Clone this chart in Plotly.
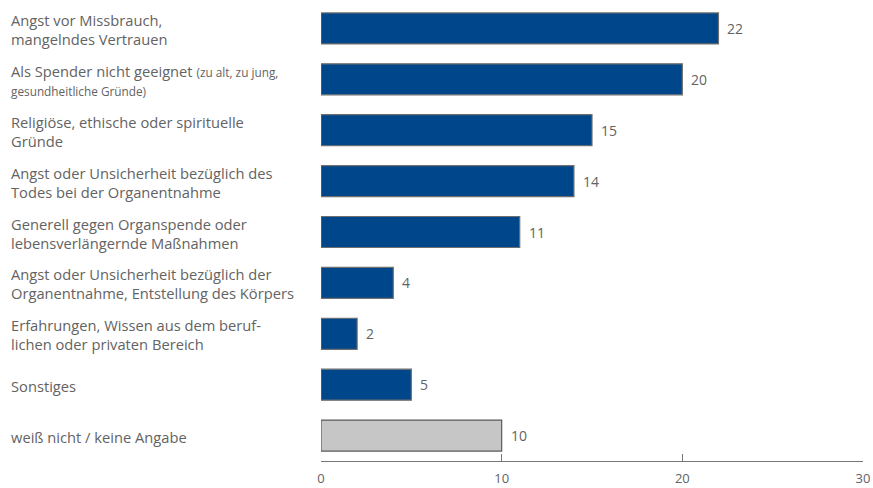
import plotly.graph_objects as go

# Reasons against organ donation, share in percent
categories = [
    "Angst vor Missbrauch,<br>mangelndes Vertrauen",
    "Als Spender nicht geeignet <span style='font-size:11.8px'>(zu alt, zu jung,</span><br><span style='font-size:11.8px'>gesundheitliche Gründe)</span>",
    "Religiöse, ethische oder spirituelle<br>Gründe",
    "Angst oder Unsicherheit bezüglich des<br>Todes bei der Organentnahme",
    "Generell gegen Organspende oder<br>lebensverlängernde Maßnahmen",
    "Angst oder Unsicherheit bezüglich der<br>Organentnahme, Entstellung des Körpers",
    "Erfahrungen, Wissen aus dem beruf-<br>lichen oder privaten Bereich",
    "Sonstiges",
    "weiß nicht / keine Angabe",
]
values = [22, 20, 15, 14, 11, 4, 2, 5, 10]
x_ticks = [0, 10, 20, 30]

TEXT = "#636363"
ids = list(range(len(categories)))
fill = ["#00468B"] * (len(values) - 1) + ["#C6C6C6"]
edge = ["#6E6E6E"] * (len(values) - 1) + ["#5A5A5A"]

fig = go.Figure(
    go.Bar(
        y=ids,
        x=values,
        orientation="h",
        marker=dict(color=fill, line=dict(color=edge, width=1.2)),
        width=0.61,
        hoverinfo="x",
    )
)

# value labels to the right of each bar
for i, v in enumerate(values):
    fig.add_annotation(
        x=v, y=i, xref="x", yref="y", xshift=7,
        text=str(v), showarrow=False,
        xanchor="left", yanchor="middle",
        font=dict(family="Open Sans", size=14, color=TEXT),
    )

# left-aligned category labels
for i, label in enumerate(categories):
    fig.add_annotation(
        x=0, xref="paper", xshift=-312,
        y=i, yref="y", yshift=-1,
        text=label, showarrow=False,
        xanchor="left", yanchor="middle", align="left",
        font=dict(family="Open Sans", size=14.7, color=TEXT),
    )

fig.update_layout(
    width=873, height=488,
    margin=dict(l=321, r=10, t=3, b=27),
    paper_bgcolor="white", plot_bgcolor="white",
    showlegend=False,
    bargap=0.39,
)
fig.update_xaxes(
    range=[0, 30], tickvals=x_ticks, automargin=False,
    ticks="inside", ticklen=7, tickcolor="#777777", tickwidth=1,
    showline=True, linecolor="#777777", linewidth=1,
    showgrid=False, zeroline=False,
    tickfont=dict(family="Open Sans", size=13, color=TEXT),
    ticklabelstandoff=5,
)
fig.update_yaxes(
    range=[len(categories) - 0.5, -0.5], automargin=False,
    showticklabels=False, showgrid=False, zeroline=False, showline=False,
)

fig.write_html("out.html")
